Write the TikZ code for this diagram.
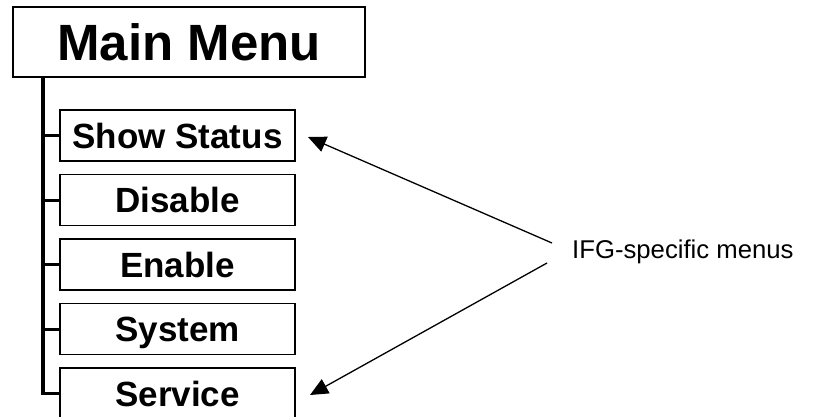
\documentclass[tikz,border=0pt]{standalone}
\usepackage{fontspec}
\setmainfont{Liberation Sans}
\usetikzlibrary{arrows.meta}
\begin{document}
\begin{tikzpicture}[x=1pt,y=1pt,
  mainbox/.style={draw, line width=2pt, minimum width=352pt, minimum height=70pt, inner sep=0pt,
    text height=37pt, text depth=0pt,
    font=\bfseries\fontsize{51}{60}\selectfont},
  subbox/.style={draw, line width=1.8pt, minimum width=235pt, minimum height=51pt, inner sep=0pt,
    text height=25pt, text depth=0pt,
    font=\bfseries\fontsize{35}{42}\selectfont},
  trunk/.style={line width=3.5pt},
  branch/.style={line width=3pt},
  note/.style={font=\fontsize{25.7}{30}\selectfont, inner sep=0pt, anchor=west},
  pointer/.style={line width=1.3pt, -{Triangle[length=18pt,width=16pt]}}]
\useasboundingbox (0,0) rectangle (814,-416);
\clip (0,0) rectangle (814,-416);
\node[mainbox] (main) at (189,-42) {Main Menu};
\node[subbox] (show) at (177.5,-135.5) {Show Status};
\node[subbox] (disable) at (177.5,-200) {Disable};
\node[subbox] (enable) at (177.5,-264.5) {Enable};
\node[subbox] (system) at (177.5,-329) {System};
\node[subbox] (service) at (177.5,-393.5) {Service};
\coordinate (trunktop) at (43,-76);
\draw[trunk] (trunktop) |- (service.west);
\foreach \n in {show,disable,enable,system}
  \draw[branch] (trunktop |- \n.west) -- (\n.west);
\node[note] (lbl) at (572,-252) {IFG-specific menus};
\coordinate (s1) at (552,-243);
\coordinate (s2) at (547,-263);
\coordinate (t1) at (308,-137);
\coordinate (t2) at (310,-395);
\draw[pointer] (s1) -- (t1);
\draw[pointer] (s2) -- (t2);
\end{tikzpicture}
\end{document}
